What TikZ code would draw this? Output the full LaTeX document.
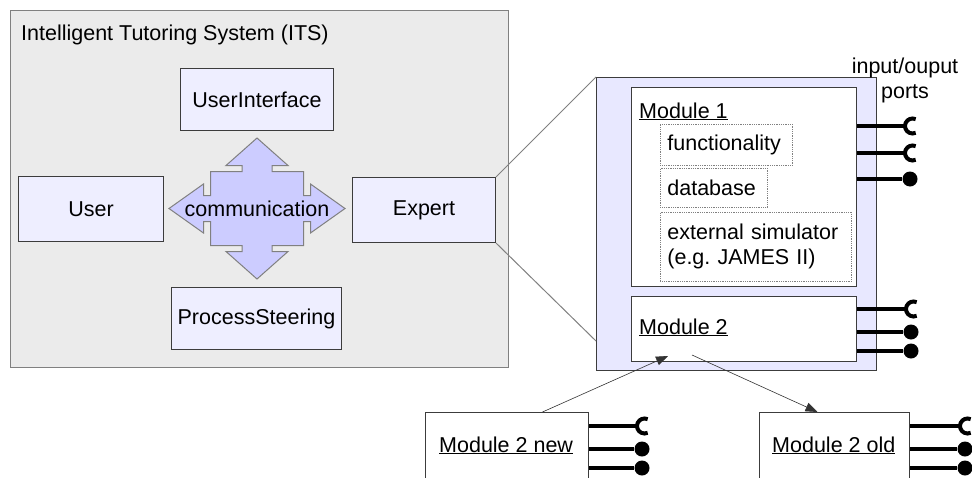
\documentclass[tikz,border=0pt]{standalone}
\usepackage{fontspec}
\setmainfont{Liberation Sans}
\usetikzlibrary{arrows.meta,positioning}
\definecolor{itsgray}{HTML}{EBEBEB}
\definecolor{boxlav}{HTML}{EEEEFF}
\definecolor{crosslav}{HTML}{CCCCFF}
\definecolor{contlav}{HTML}{E8E8FF}
\definecolor{edge}{HTML}{3C3C3C}
\newcommand{\socket}[2]{%
  \draw[port] (#1.east |- #2) -- ([xshift=-7.5pt]#2);
  \draw[port, line width=4pt] ([shift={(65:7.5pt)}]#2) arc[start angle=65,end angle=295,radius=7.5pt];}
\newcommand{\plug}[2]{%
  \draw[port] (#1.east |- #2) -- (#2);}
\frenchspacing

\begin{document}
\begin{tikzpicture}[x=1pt,y=-1pt,
   every node/.style={font=\fontsize{21.5}{25}\selectfont},
   tbox/.style={draw=edge, fill=boxlav, line width=1pt, anchor=north west},
   modbox/.style={draw=edge, fill=white, line width=1pt, anchor=north west},
   dotbox/.style={draw=gray, densely dotted, line width=0.8pt, anchor=north west,
     inner xsep=7pt, align=left, minimum height=41pt},
   ball/.style={circle, fill=black, inner sep=0pt, minimum size=15pt},
   port/.style={line width=3.5pt},
   flow/.style={-{Triangle[length=12pt,width=9pt]}, line width=0.6pt, draw=black!80},
   zoomline/.style={draw=gray, line width=1pt}]
  \useasboundingbox (0,0) rectangle (972,477);
  % ITS part
  \node[draw=gray, fill=itsgray, line width=1pt, anchor=north west,
    minimum width=498pt, minimum height=357pt] (its) at (10,10) {};
  \node[anchor=base west, inner sep=0pt] (itslbl) at (21,40) {Intelligent Tutoring System (ITS)};
  \node[tbox, minimum width=153pt, minimum height=62pt] (ui) at (180,68) {UserInterface};
  \node[tbox, minimum width=145pt, minimum height=65pt] (user) at (18,176) {User};
  \node[tbox, minimum width=143pt, minimum height=65pt] (expert) at (352,177) {Expert};
  \node[tbox, minimum width=170pt, minimum height=62pt] (ps) at (171,287) {ProcessSteering};
  % communication cross
  \begin{scope}[shift={(257,208.5)}]
    \draw[draw=gray, fill=crosslav, line width=1pt]
      (0,-70.5) -- (31,-43) -- (15,-43) -- (15,-37) -- (46.5,-37) -- (46.5,-13)
      -- (53.5,-13) -- (53.5,-24.5) -- (88,0) -- (53.5,24.5) -- (53.5,13)
      -- (46.5,13) -- (46.5,37) -- (15,37) -- (15,43) -- (31,43) -- (0,70.5)
      -- (-31,43) -- (-15,43) -- (-15,37) -- (-46.5,37) -- (-46.5,13)
      -- (-53.5,13) -- (-53.5,24.5) -- (-88,0) -- (-53.5,-24.5) -- (-53.5,-13)
      -- (-46.5,-13) -- (-46.5,-37) -- (-15,-37) -- (-15,-43) -- (-31,-43) -- cycle;
  \end{scope}
  \node (comm) at (257,208.5) {communication};

  % expert, zoomed
  \node[draw=edge, fill=contlav, line width=1pt, anchor=north west,
    minimum width=280pt, minimum height=293pt] (cont) at (596,77) {};
  \draw[zoomline] (expert.north east) -- (cont.north west);
  \draw[zoomline] (expert.south east) -- ([yshift=30pt]cont.south west);
  \node[modbox, minimum width=225pt, minimum height=199pt] (m1) at (631,87) {};
  \node[anchor=base west, inner sep=0pt] (m1lbl) at (639,118) {\underline{Module 1}};
  \node[dotbox, text width=118pt] (func) at (660,124) {functionality};
  \node[dotbox, text width=93pt, minimum height=39pt] (db) at (660,168) {database};
  \node[dotbox, text width=177pt, minimum height=69pt] (ext) at (660,212)
    {external simulator\\(e.g. JAMES II)};
  \node[modbox, minimum width=225pt, minimum height=65pt] (m2) at (631,296) {};
  \node[anchor=base west, inner sep=0pt] (m2lbl) at (639,334) {\underline{Module 2}};
  \node[align=center, inner sep=0pt] (ports) at (905,80) {input/ouput\\ports};

  % ports
  \coordinate (m1s1) at (912.5,126);
  \coordinate (m1s2) at (912.5,153);
  \node[ball] (m1b3) at (910,179) {};
  \socket{m1}{m1s1}
  \socket{m1}{m1s2}
  \plug{m1}{m1b3}
  \coordinate (m2s1) at (913.5,309);
  \node[ball] (m2b2) at (911,332) {};
  \node[ball] (m2b3) at (911,351) {};
  \socket{m2}{m2s1}
  \plug{m2}{m2b2}
  \plug{m2}{m2b3}

  % replacement modules
  \node[modbox, minimum width=163pt, minimum height=90pt] (m2new) at (425,412) {};
  \node[anchor=base west, inner sep=0pt] (m2newlbl) at (439,452) {\underline{Module 2 new}};
  \node[modbox, minimum width=150pt, minimum height=90pt] (m2old) at (759,412) {};
  \node[anchor=base west, inner sep=0pt] (m2oldlbl) at (772,452) {\underline{Module 2 old}};
  \coordinate (ns1) at (644.5,426);
  \node[ball] (nb2) at (642,449) {};
  \node[ball] (nb3) at (642,468) {};
  \socket{m2new}{ns1}
  \plug{m2new}{nb2}
  \plug{m2new}{nb3}
  \coordinate (os1) at (967.5,426);
  \node[ball] (ob2) at (965,449) {};
  \node[ball] (ob3) at (965,468) {};
  \socket{m2old}{os1}
  \plug{m2old}{ob2}
  \plug{m2old}{ob3}

  \coordinate (m2in) at (668,356);
  \coordinate (m2out) at (692,355);
  \draw[flow] ([xshift=35.5pt]m2new.north) -- (m2in);
  \draw[flow] (m2out) -- ([xshift=-17pt]m2old.north);
\end{tikzpicture}
\end{document}
